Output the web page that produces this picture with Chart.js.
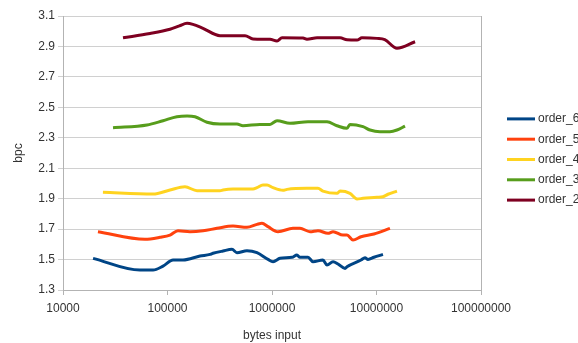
<!DOCTYPE html>
<html>
<head>
<meta charset="utf-8">
<script src="https://cdn.jsdelivr.net/npm/chart.js@4/dist/chart.umd.min.js"></script>
<style>
  html, body { margin: 0; padding: 0; background: #fff; }
  #wrap { width: 578px; height: 343px; }
</style>
</head>
<body>
<div id="wrap"><canvas id="c" width="578" height="343"></canvas></div>
<script>
// Axis ticks
const xTickValues = [10000, 100000, 1000000, 10000000, 100000000];
const yTickValues = [1.3, 1.5, 1.7, 1.9, 2.1, 2.3, 2.5, 2.7, 2.9, 3.1];

// Series names, in legend order
const seriesNames = ['order_6', 'order_5', 'order_4', 'order_3', 'order_2'];
const seriesColors = ['#004586', '#ff420e', '#ffd320', '#579d1c', '#7e0021'];

// order_6
const order6Bytes = [19400, 54500, 72700, 90600, 113000, 140700, 204700, 255000, 272600, 339800, 414000, 462000, 576000, 718000, 916000, 1023000, 1194000, 1554000, 1733000, 1853000, 2210000, 2470000, 3070000, 3360000, 3840000, 4280000, 5000000, 5220000, 7110000, 7760000, 8290000, 9460000, 11530000];
const order6Bpc   = [1.508, 1.431, 1.431, 1.457, 1.497, 1.497, 1.523, 1.534, 1.541, 1.556, 1.567, 1.545, 1.558, 1.545, 1.501, 1.486, 1.508, 1.515, 1.530, 1.515, 1.515, 1.486, 1.497, 1.464, 1.486, 1.471, 1.442, 1.453, 1.497, 1.512, 1.501, 1.515, 1.534];

// order_5
const order5Bytes = [21600, 60900, 84800, 105700, 126000, 164000, 218600, 297500, 423500, 576000, 718000, 802000, 916000, 1141000, 1588000, 1853000, 2310000, 2755000, 3430000, 3840000, 4780000, 5220000, 5960000, 7110000, 9460000, 13450000];
const order5Bpc   = [1.683, 1.633, 1.646, 1.661, 1.689, 1.683, 1.689, 1.705, 1.720, 1.712, 1.731, 1.738, 1.716, 1.683, 1.705, 1.705, 1.683, 1.690, 1.672, 1.683, 1.661, 1.661, 1.628, 1.650, 1.668, 1.705];

// order_4
const order4Bytes = [24100, 72700, 105700, 146900, 191600, 318000, 339800, 423500, 658000, 718000, 820000, 896000, 1023000, 1274000, 1392000, 2160000, 2755000, 3070000, 4190000, 4480000, 5570000, 6510000, 7430000, 10100000, 11530000, 12880000, 15700000];
const order4Bpc   = [1.942, 1.930, 1.957, 1.978, 1.952, 1.952, 1.957, 1.963, 1.963, 1.972, 1.990, 1.990, 1.972, 1.955, 1.961, 1.968, 1.968, 1.950, 1.935, 1.950, 1.935, 1.898, 1.902, 1.909, 1.913, 1.929, 1.950];

// order_3
const order3Bytes = [30100, 63600, 90600, 123000, 153700, 183300, 238700, 318000, 462000, 527000, 767000, 957000, 1117000, 1486000, 2210000, 3360000, 4190000, 5220000, 5570000, 7430000, 8670000, 10790000, 13450000, 15700000, 18750000];
const order3Bpc   = [2.366, 2.384, 2.412, 2.438, 2.443, 2.438, 2.402, 2.390, 2.390, 2.379, 2.388, 2.388, 2.412, 2.395, 2.406, 2.405, 2.379, 2.362, 2.388, 2.373, 2.351, 2.340, 2.340, 2.351, 2.377];

// order_2
const order2Bytes = [37500, 68000, 105700, 130000, 153700, 175000, 218600, 318000, 552000, 658000, 957000, 1117000, 1247000, 1980000, 2160000, 2700000, 4480000, 5220000, 6510000, 7260000, 10100000, 12000000, 15700000, 23400000];
const order2Bpc   = [2.957, 2.985, 3.013, 3.035, 3.052, 3.045, 3.019, 2.971, 2.971, 2.949, 2.947, 2.936, 2.957, 2.955, 2.947, 2.957, 2.957, 2.944, 2.942, 2.957, 2.953, 2.945, 2.888, 2.931];

const seriesBytes = [order6Bytes, order5Bytes, order4Bytes, order3Bytes, order2Bytes];
const seriesBpc = [order6Bpc, order5Bpc, order4Bpc, order3Bpc, order2Bpc];

const FONT = '"Liberation Sans", Arial, sans-serif';
const TEXT = '#333333';
const GRID = '#d0d0d0';
const AXIS = '#b3b3b3';

const datasets = seriesNames.map((name, i) => ({
  label: name,
  data: seriesBytes[i].map((b, j) => ({ x: b, y: seriesBpc[i][j] })),
  borderColor: seriesColors[i],
  backgroundColor: seriesColors[i],
  borderWidth: 3,
  pointRadius: 0,
  cubicInterpolationMode: 'monotone',
  fill: false
}));

// Legend drawn beside the plot: short line sample followed by the series name
const sideLegend = {
  id: 'sideLegend',
  afterDraw(chart) {
    const { ctx, chartArea } = chart;
    const n = chart.data.datasets.length;
    const step = 20.3;
    const x0 = chartArea.right + 26;
    const yMid = (chartArea.top + chartArea.bottom) / 2 + 6.5;
    ctx.save();
    ctx.font = '12px ' + FONT;
    ctx.textBaseline = 'middle';
    ctx.textAlign = 'left';
    chart.data.datasets.forEach((ds, i) => {
      const y = yMid + (i - (n - 1) / 2) * step;
      ctx.strokeStyle = ds.borderColor;
      ctx.lineWidth = 3;
      ctx.beginPath();
      ctx.moveTo(x0, y);
      ctx.lineTo(x0 + 28, y);
      ctx.stroke();
      ctx.fillStyle = TEXT;
      ctx.fillText(ds.label, x0 + 31, y);
    });
    ctx.restore();
  }
};

new Chart(document.getElementById('c'), {
  type: 'line',
  data: { datasets },
  plugins: [sideLegend],
  options: {
    responsive: false,
    animation: false,
    layout: { padding: { top: 16, right: 97, left: 0, bottom: 0 } },
    plugins: {
      legend: { display: false },
      tooltip: { enabled: false }
    },
    scales: {
      x: {
        type: 'logarithmic',
        min: 10000,
        max: 100000000,
        afterBuildTicks: (scale) => { scale.ticks = xTickValues.map(v => ({ value: v })); },
        afterFit: (scale) => { scale.height = 53; },
        ticks: {
          autoSkip: false,
          maxRotation: 0,
          padding: 6,
          color: TEXT,
          font: { family: FONT, size: 12 },
          callback: (v) => String(Math.round(v))
        },
        grid: {
          drawOnChartArea: true,
          tickLength: 5,
          color: (c) => (c.index === xTickValues.length - 1 ? AXIS : 'rgba(0,0,0,0)'),
          tickColor: AXIS
        },
        border: { display: true, color: AXIS },
        title: {
          display: true,
          text: 'bytes input',
          color: TEXT,
          font: { family: FONT, size: 12 },
          padding: { top: 4, bottom: 0.5 }
        }
      },
      y: {
        type: 'linear',
        min: 1.3,
        max: 3.1,
        afterBuildTicks: (scale) => { scale.ticks = yTickValues.map(v => ({ value: v })); },
        afterFit: (scale) => { scale.width = 63; },
        ticks: {
          padding: 3,
          color: TEXT,
          font: { family: FONT, size: 12 },
          callback: (v) => Number(v).toFixed(1)
        },
        grid: { color: GRID, tickLength: 5, tickColor: GRID },
        border: { display: true, color: AXIS },
        title: {
          display: true,
          text: 'bpc',
          color: TEXT,
          font: { family: FONT, size: 12 },
          padding: { top: 11, bottom: 0 }
        }
      }
    }
  }
});
</script>
</body>
</html>
